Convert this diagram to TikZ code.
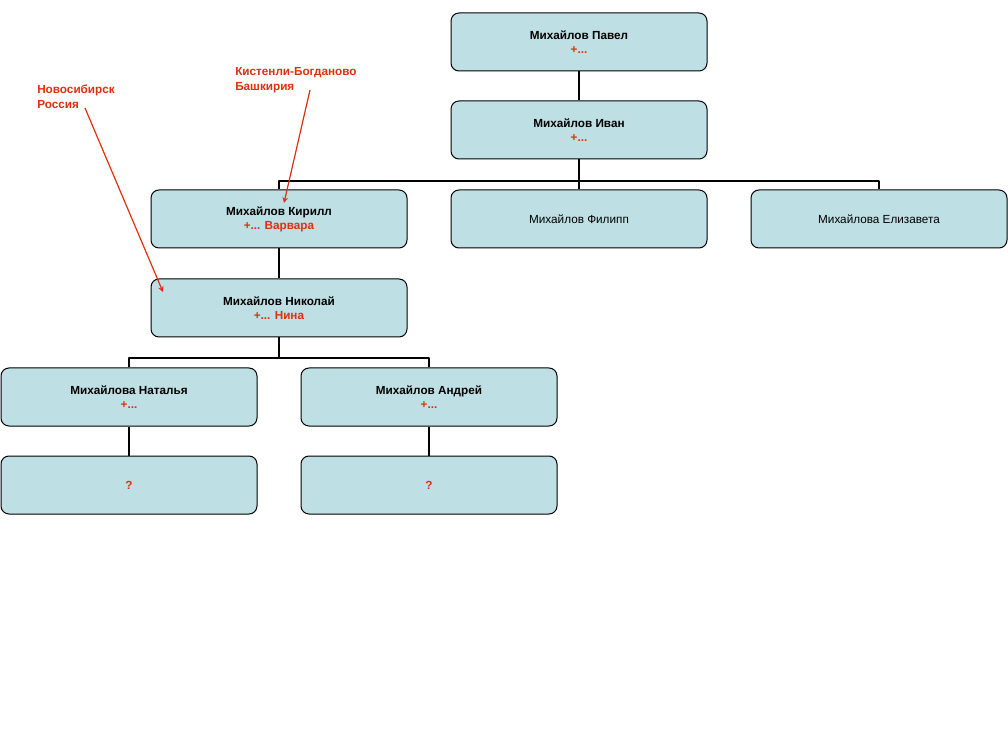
\documentclass[tikz,border=0pt]{standalone}
\usepackage{fontspec}
\setmainfont{Liberation Sans}
\usetikzlibrary{positioning}
\definecolor{boxfill}{RGB}{190,223,227}
\definecolor{notered}{RGB}{222,48,14}
\tikzset{person/.style={draw, line width=.75pt, rounded corners=6pt, fill=boxfill, minimum width=192pt, minimum height=43.5pt, align=center, inner sep=1pt, font=\fontsize{8.8}{10.5}\selectfont},
  link/.style={line width=1.5pt},
  place/.style={text=notered, align=left, anchor=north west, inner sep=0pt, font=\bfseries\fontsize{8.8}{11}\selectfont}}
\newcommand{\wife}[1]{\\\textcolor{notered}{\textbf{#1}}}
\begin{document}
\begin{tikzpicture}[x=.75pt, y=-.75pt, >=stealth, line join=round]
	\useasboundingbox (0,0) rectangle (1008,756);
	\node[person] (pavel) at (579,42) {\textbf{Михайлов Павел}\wife{+...}};
	\node[person] (ivan) at (579,130) {\textbf{Михайлов Иван}\wife{+...}};
	\node[person] (kirill) at (279,219) {\textbf{Михайлов Кирилл}\wife{+... Варвара}};
	\node[person] (filipp) at (579,219) {Михайлов Филипп};
	\node[person] (eliz) at (879,219) {Михайлова Елизавета};
	\node[person] (nikolai) at (279,308) {\textbf{Михайлов Николай}\wife{+... Нина}};
	\node[person] (natalya) at (129,397) {\textbf{Михайлова Наталья}\wife{+...}};
	\node[person] (andrei) at (429,397) {\textbf{Михайлов Андрей}\wife{+...}};
	\node[person] (unk1) at (129,485) {\textcolor{notered}{\textbf{?}}};
	\node[person] (unk2) at (429,485) {\textcolor{notered}{\textbf{?}}};
	% links
	\draw[link] (pavel) -- (ivan);
	\draw[link] (ivan.south) -- ++(0,22) coordinate (bar1);
	\foreach \c in {kirill,filipp,eliz} \draw[link] (\c.north) |- (bar1);
	\draw[link] (kirill) -- (nikolai);
	\draw[link] (nikolai.south) -- ++(0,21) coordinate (bar2);
	\foreach \c in {natalya,andrei} \draw[link] (\c.north) |- (bar2);
	\draw[link] (natalya) -- (unk1);
	\draw[link] (andrei) -- (unk2);
	% places
	\node[place] (novosib) at (37,84.5) {Новосибирск\\Россия};
	\node[place] (kist) at (235,67.5) {Кистенли-Богданово\\Башкирия};
	\coordinate (novoTail) at (85,108);
	\coordinate (novoTip) at (163,292);
	\coordinate (kistTail) at (310,90);
	\coordinate (kistTip) at (284,203);
	\draw[->, notered, line width=.9pt] (novoTail) -- (novoTip);
	\draw[->, notered, line width=.9pt] (kistTail) -- (kistTip);
\end{tikzpicture}
\end{document}
